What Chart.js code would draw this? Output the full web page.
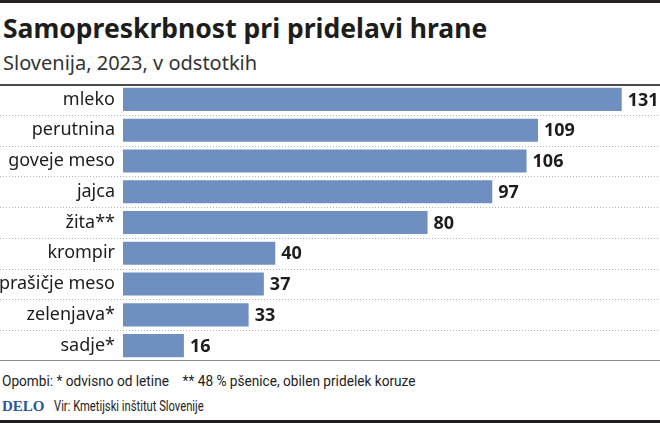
<!DOCTYPE html>
<html>
<head>
<meta charset="utf-8">
<script src="https://cdn.jsdelivr.net/npm/chart.js@4"></script>
<style>
  html, body { margin: 0; padding: 0; background: #fff; }
  #wrap { position: relative; width: 660px; height: 423px; overflow: hidden; background: #fff; }
  .txt { position: absolute; white-space: nowrap; line-height: 1; color: #1d1d1b; transform-origin: 0 50%; }
  #topbar { position: absolute; left: 0; top: 0; width: 660px; height: 3px; background: #231f20; }
  #botbar { position: absolute; left: 0; top: 420px; width: 660px; height: 3px; background: #231f20; }
  #title { left: 3px; top: 10px; font: bold 26.5px "Noto Sans", sans-serif; }
  #subtitle { left: 3px; top: 49px; font: 20px "Noto Sans", sans-serif; color: #333; }
  #notes { left: 2px; top: 372px; font: 15px "Roboto", sans-serif; color: #222; transform: scaleX(0.91); }
  #notes span + span { margin-left: 15px; }
  #delo { left: 2px; top: 398px; font: bold 15px "Liberation Serif", serif; color: #2b5797; }
  #source { left: 54px; top: 398px; font: 14px "Roboto", sans-serif; color: #222; transform: scaleX(0.8); }
  #chart { position: absolute; left: 0; top: 84px; }
</style>
</head>
<body>
<div id="wrap">
  <div id="topbar"></div>
  <div class="txt" id="title">Samopreskrbnost pri pridelavi hrane</div>
  <div class="txt" id="subtitle">Slovenija, 2023, v odstotkih</div>
  <canvas id="chart" width="660" height="277"></canvas>
  <div class="txt" id="notes"><span>Opombi: * odvisno od letine</span><span>** 48 % pšenice, obilen pridelek koruze</span></div>
  <div class="txt" id="delo">DELO</div>
  <div class="txt" id="source">Vir: Kmetijski inštitut Slovenije</div>
  <div id="botbar"></div>
</div>
<script>
const categories = [
  "mleko",
  "perutnina",
  "goveje meso",
  "jajca",
  "žita**",
  "krompir",
  "prašičje meso",
  "zelenjava*",
  "sadje*",
];
const values = [131, 109, 106, 97, 80, 40, 37, 33, 16];

const barColor = "#6f8fc0";

// separators between rows, full width
const rowLines = {
  id: "rowLines",
  beforeDatasetsDraw(chart) {
    const { ctx } = chart;
    const y = chart.scales.y;
    const n = categories.length;
    ctx.save();
    for (let i = 0; i <= n; i++) {
      let yy;
      if (i === 0) yy = y.top;
      else if (i === n) yy = y.bottom;
      else yy = (y.getPixelForTick(i - 1) + y.getPixelForTick(i)) / 2;
      ctx.beginPath();
      if (i === 0) {
        ctx.strokeStyle = "#4a4a4a";
        ctx.lineWidth = 2;
        ctx.setLineDash([]);
        yy += 1;
      } else if (i === n) {
        ctx.strokeStyle = "#8a8a8a";
        ctx.lineWidth = 1;
        ctx.setLineDash([]);
        yy -= 0.5;
      } else {
        ctx.strokeStyle = "#b5b5b5";
        ctx.lineWidth = 1;
        ctx.setLineDash([1, 2]);
        yy = Math.round(yy) + 0.5;
      }
      ctx.moveTo(0, yy);
      ctx.lineTo(chart.width, yy);
      ctx.stroke();
    }
    ctx.restore();
  },
};

// value labels right of each bar
const valueLabels = {
  id: "valueLabels",
  afterDatasetsDraw(chart) {
    const { ctx } = chart;
    const meta = chart.getDatasetMeta(0);
    ctx.save();
    ctx.font = "bold 18px 'Noto Sans', sans-serif";
    ctx.fillStyle = "#1d1d1b";
    ctx.textAlign = "left";
    ctx.textBaseline = "middle";
    meta.data.forEach((bar, i) => {
      ctx.fillText(values[i], bar.x + 6, bar.y + 1);
    });
    ctx.restore();
  },
};

new Chart(document.getElementById("chart"), {
  type: "bar",
  data: {
    labels: categories,
    datasets: [
      {
        data: values,
        backgroundColor: barColor,
        borderWidth: 0,
        categoryPercentage: 1,
        barPercentage: 0.75,
      },
    ],
  },
  options: {
    indexAxis: "y",
    responsive: false,
    animation: false,
    layout: { padding: { left: 0, right: 4, top: 0, bottom: 0 } },
    plugins: {
      legend: { display: false },
      tooltip: { enabled: false },
    },
    scales: {
      x: {
        display: false,
        min: 0,
        max: 140,
      },
      y: {
        grid: { display: false, drawTicks: false },
        border: { display: false },
        afterFit(scale) {
          scale.width = 123;
          scale.paddingTop = 0;
          scale.paddingBottom = 0;
        },
        ticks: {
          padding: 8,
          color: "#1d1d1b",
          font: { family: "'Noto Sans', sans-serif", size: 18 },
        },
      },
    },
  },
  plugins: [rowLines, valueLabels],
});
</script>
</body>
</html>
